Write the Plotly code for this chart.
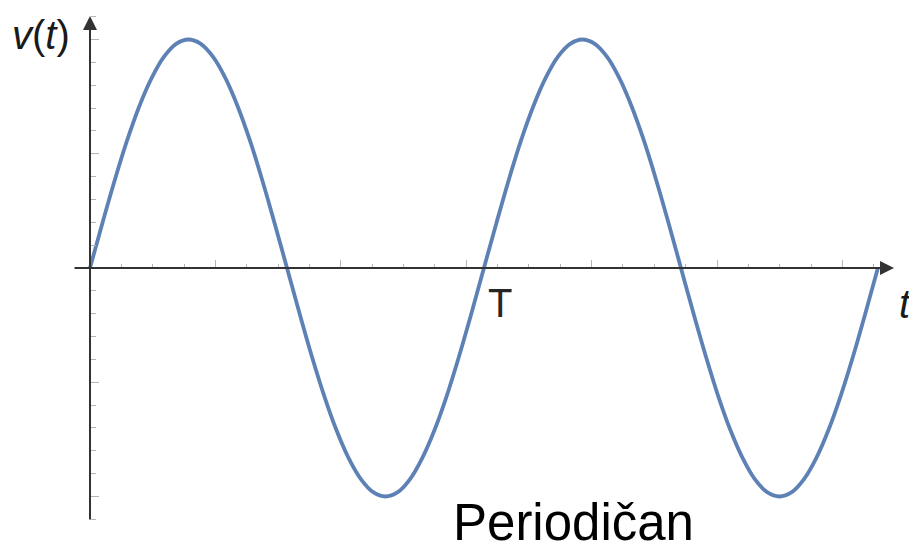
import plotly.graph_objects as go

# curve samples (t in units, v amplitude)
t_vals = [0.000, 0.196, 0.393, 0.589, 0.785, 0.982, 1.178, 1.374, 1.571, 1.767,
          1.963, 2.160, 2.356, 2.553, 2.749, 2.945, 3.142, 3.338, 3.534, 3.731,
          3.927, 4.123, 4.320, 4.516, 4.712, 4.909, 5.105, 5.301, 5.498, 5.694,
          5.890, 6.087, 6.283, 6.480, 6.676, 6.872, 7.069, 7.265, 7.461, 7.658,
          7.854, 8.050, 8.247, 8.443, 8.639, 8.836, 9.032, 9.229, 9.425, 9.621,
          9.818, 10.014, 10.210, 10.407, 10.603, 10.799, 10.996, 11.192, 11.388,
          11.585, 11.781, 11.977, 12.174, 12.370, 12.566]
v_vals = [0.0, 0.195, 0.383, 0.556, 0.707, 0.831, 0.924, 0.981, 1.0, 0.981, 0.924,
          0.831, 0.707, 0.556, 0.383, 0.195, 0.0, -0.195, -0.383, -0.556, -0.707,
          -0.831, -0.924, -0.981, -1.0, -0.981, -0.924, -0.831, -0.707, -0.556,
          -0.383, -0.195, 0.0, 0.195, 0.383, 0.556, 0.707, 0.831, 0.924, 0.981, 1.0,
          0.981, 0.924, 0.831, 0.707, 0.556, 0.383, 0.195, 0.0, -0.195, -0.383,
          -0.556, -0.707, -0.831, -0.924, -0.981, -1.0, -0.981, -0.924, -0.831,
          -0.707, -0.556, -0.383, -0.195, 0.0]

x_major = [2, 4, 6, 8, 10, 12]
x_minor = [0.5, 1, 1.5, 2.5, 3, 3.5, 4.5, 5, 5.5, 6.5, 7, 7.5, 8.5, 9, 9.5,
           10.5, 11, 11.5, 12.5]
y_major = [-1.0, -0.5, 0.5, 1.0]
y_minor = [-1.1, -0.9, -0.8, -0.7, -0.6, -0.4, -0.3, -0.2, -0.1,
           0.1, 0.2, 0.3, 0.4, 0.6, 0.7, 0.8, 0.9, 1.1]

period_label = "T"
period_at = 6.283
caption = "Periodičan"

# the page body adds an 8px margin, so the figure is drawn 8px in and 8px down
OFF = 8
W, H = 917 - OFF, 552 - OFF
X0, Y0 = 90 - OFF, 268 - OFF   # origin in figure pixels
SX, SY = 62.7, 228.5           # pixels per unit

x_range = [-X0 / SX, (W - X0) / SX]
y_range = [-(H - Y0) / SY, Y0 / SY]


def px(x, y):
    # screen pixel -> data coordinates
    return (x - OFF - X0) / SX, (Y0 - (y - OFF)) / SY


fig = go.Figure()
fig.add_trace(go.Scatter(x=t_vals, y=v_vals, mode="lines",
                         line=dict(color="#5e81b5", width=3.8, shape="spline"),
                         hoverinfo="skip"))

tick_col = "#b5b5b5"
fig.update_xaxes(range=x_range, showgrid=False, zeroline=False, showline=False,
                 anchor="free",
                 position=(0 - y_range[0]) / (y_range[1] - y_range[0]),
                 tickvals=x_major, ticks="inside", ticklen=8, tickwidth=1,
                 tickcolor=tick_col, showticklabels=False,
                 minor=dict(tickvals=x_minor, ticks="inside", ticklen=4.5,
                            tickwidth=1, tickcolor=tick_col))
fig.update_yaxes(range=y_range, showgrid=False, zeroline=False, showline=False,
                 anchor="free",
                 position=(0 - x_range[0]) / (x_range[1] - x_range[0]),
                 tickvals=y_major, ticks="inside", ticklen=8, tickwidth=1,
                 tickcolor=tick_col, showticklabels=False,
                 minor=dict(tickvals=y_minor, ticks="inside", ticklen=4.5,
                            tickwidth=1, tickcolor=tick_col))

axis_col = "#333333"
# horizontal axis with arrow
xa0, _ = px(73, 268)
xa1, _ = px(894, 268)
fig.add_annotation(x=xa1, y=0, ax=xa0, ay=0, xref="x", yref="y", axref="x", ayref="y",
                   showarrow=True, arrowhead=2, arrowsize=1.4, arrowwidth=2,
                   arrowcolor=axis_col, text="")
# vertical axis with arrow
_, ya0 = px(90, 521)
_, ya1 = px(90, 16)
fig.add_annotation(x=0, y=ya1, ax=0, ay=ya0, xref="x", yref="y", axref="x", ayref="y",
                   showarrow=True, arrowhead=2, arrowsize=1.4, arrowwidth=2,
                   arrowcolor=axis_col, text="")

lbl_font = "Liberation Sans, Arial, sans-serif"
x, y = px(41, 35)
fig.add_annotation(x=x, y=y, text="<i>v</i>(<i>t</i>)", showarrow=False,
                   font=dict(family=lbl_font, size=40, color="#1a1a1a"))
x, y = px(905, 304)
fig.add_annotation(x=x, y=y, text="<i>t</i>", showarrow=False,
                   font=dict(family=lbl_font, size=40, color="#1a1a1a"))
_, y = px(0, 303)
fig.add_annotation(x=period_at, y=y, xshift=16, text=period_label, showarrow=False,
                   font=dict(family=lbl_font, size=40, color="#262626"))
x, y = px(573, 522)
fig.add_annotation(x=x, y=y, text=caption, showarrow=False,
                   font=dict(family=lbl_font, size=51, color="#000000"))

fig.update_layout(width=W, height=H, autosize=False,
                  margin=dict(l=0, r=0, t=0, b=0),
                  paper_bgcolor="white", plot_bgcolor="white",
                  showlegend=False)

fig.write_html("out.html")
